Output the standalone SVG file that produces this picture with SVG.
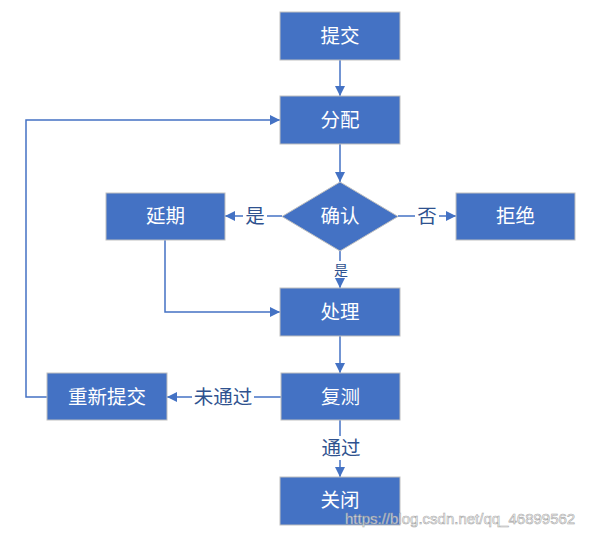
<svg xmlns="http://www.w3.org/2000/svg" width="600" height="537" viewBox="0 0 600 537">
<style>
.box{fill:#4472C4;stroke:#BFBFBF;stroke-width:1}
.t{fill:#fff;font-family:"Microsoft YaHei","Noto Sans CJK SC",sans-serif;font-size:19.5px;text-anchor:middle;dominant-baseline:central}
.c{fill:none;stroke:#4472C4;stroke-width:1.5}
.lb{fill:#2F528F;font-family:"Microsoft YaHei","Noto Sans CJK SC",sans-serif;font-size:19.5px;text-anchor:middle;dominant-baseline:central}
.bg{fill:#fff}
</style>
<defs>
<marker id="a" viewBox="0 0 10 10" refX="10" refY="5" markerWidth="10" markerHeight="10" markerUnits="userSpaceOnUse" orient="auto">
<path d="M0,0 L10,5 L0,10 z" fill="#4472C4"/>
</marker>
</defs>
<rect width="600" height="537" fill="#fff"/>
<g id="connectors">
<path class="c" d="M340,60 V96" marker-end="url(#a)"/>
<path class="c" d="M340,144 V182" marker-end="url(#a)"/>
<path class="c" d="M282,216 H225" marker-end="url(#a)"/>
<path class="c" d="M398,216 H456" marker-end="url(#a)"/>
<path class="c" d="M340,251 V288" marker-end="url(#a)"/>
<path class="c" d="M165,240 V312 H280" marker-end="url(#a)"/>
<path class="c" d="M340,336 V373" marker-end="url(#a)"/>
<path class="c" d="M281,397 H167" marker-end="url(#a)"/>
<path class="c" d="M47,397 H26 V120 H280" marker-end="url(#a)"/>
<path class="c" d="M340,420 V477" marker-end="url(#a)"/>
<rect class="bg" x="243" y="204" width="24" height="24"/>
<text class="lb" x="255" y="214">是</text>
<rect class="bg" x="415" y="204" width="24" height="24"/>
<text class="lb" x="427" y="214">否</text>
<rect class="bg" x="333" y="261" width="16" height="17"/>
<text class="lb" x="341" y="268.5" style="font-size:14px">是</text>
<rect class="bg" x="192" y="385" width="62" height="24"/>
<text class="lb" x="223" y="395">未通过</text>
<rect class="bg" x="320" y="436" width="42" height="24"/>
<text class="lb" x="341" y="446">通过</text>
</g>
<g id="n1"><rect class="box" x="280" y="12" width="120" height="48"/><text class="t" x="340" y="34.5">提交</text></g>
<g id="n2"><rect class="box" x="280" y="96" width="120" height="48"/><text class="t" x="340" y="118.5">分配</text></g>
<g id="n3"><path class="box" d="M340,182 L398,216.5 L340,251 L282,216.5 z"/><text class="t" x="340" y="214.5">确认</text></g>
<g id="n4"><rect class="box" x="106" y="193" width="119" height="47"/><text class="t" x="165.5" y="214.5">延期</text></g>
<g id="n5"><rect class="box" x="456" y="193" width="119" height="47"/><text class="t" x="515.5" y="214.5">拒绝</text></g>
<g id="n6"><rect class="box" x="280" y="288" width="120" height="48"/><text class="t" x="340" y="310.5">处理</text></g>
<g id="n7"><rect class="box" x="281" y="373" width="119" height="47"/><text class="t" x="340.5" y="395">复测</text></g>
<g id="n8"><rect class="box" x="47" y="373" width="120" height="47"/><text class="t" x="107" y="395">重新提交</text></g>
<g id="n9"><rect class="box" x="280" y="477" width="120" height="48"/><text class="t" x="340" y="498.5">关闭</text></g>
<text x="345" y="524" style="font-family:'Liberation Sans',Arial,sans-serif;font-size:15px;fill:#fff;stroke:#9a9a9a;stroke-width:0.6;opacity:0.85">https://blog.csdn.net/qq_46899562</text>
</svg>
